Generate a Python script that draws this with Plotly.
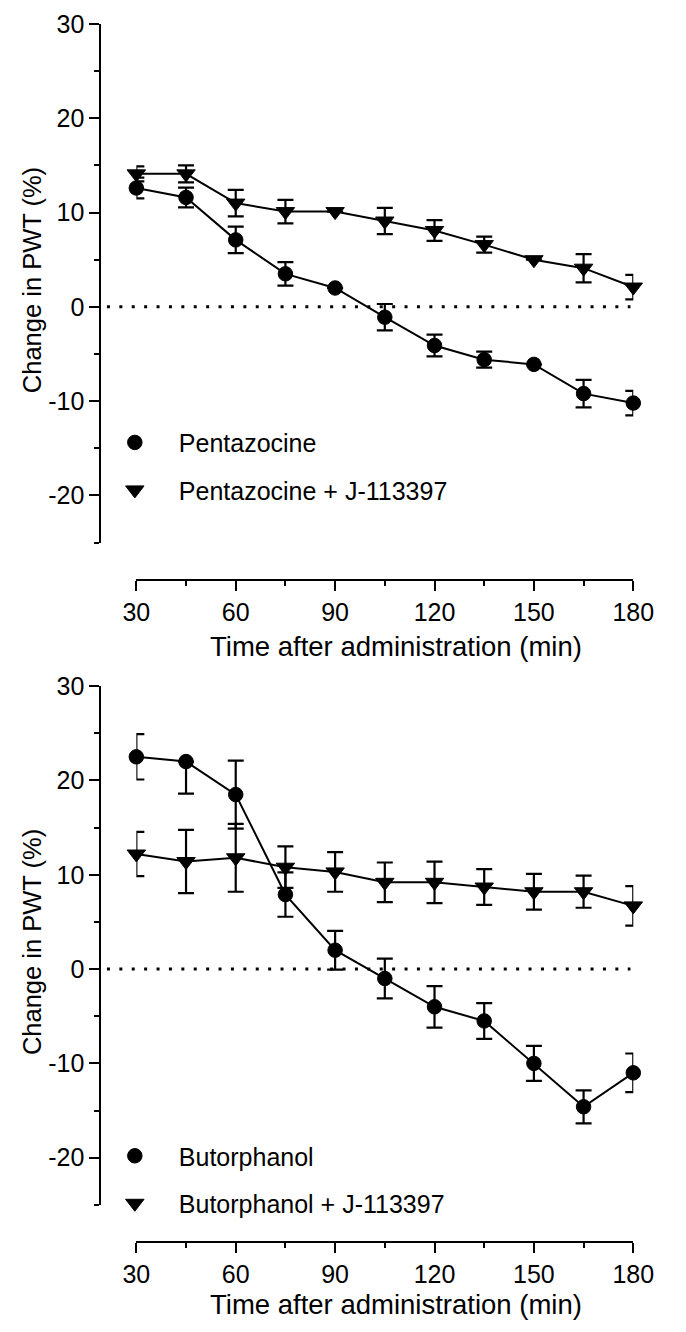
import plotly.graph_objects as go

# ---------------- data ----------------
time_min = [30, 45, 60, 75, 90, 105, 120, 135, 150, 165, 180]

pent_mean = [12.6, 11.6, 7.1, 3.5, 2.0, -1.1, -4.1, -5.6, -6.1, -9.2, -10.2]
pent_sem = [1.1, 1.05, 1.4, 1.25, None, 1.4, 1.15, 0.85, None, 1.45, 1.3]

pentj_mean = [14.1, 14.1, 11.0, 10.1, 10.1, 9.1, 8.1, 6.6, 5.0, 4.1, 2.1]
pentj_sem = [0.8, 0.9, 1.4, 1.25, None, 1.4, 1.1, 0.85, None, 1.5, 1.3]

but_mean = [22.5, 22.0, 18.5, 7.9, 2.0, -1.0, -4.0, -5.5, -10.0, -14.6, -11.0]
but_sem_up = [2.4, 0.0, 3.6, 2.35, 2.05, 2.1, 2.2, 1.9, 1.85, 1.75, 2.05]
but_sem_down = [2.4, 3.4, 3.6, 2.35, 2.05, 2.1, 2.2, 1.9, 1.85, 1.75, 2.05]

butj_mean = [12.2, 11.4, 11.8, 10.8, 10.3, 9.2, 9.2, 8.7, 8.2, 8.2, 6.7]
butj_sem = [2.35, 3.35, 3.6, 2.2, 2.1, 2.1, 2.2, 1.9, 1.9, 1.7, 2.1]

x_ticks = [30, 60, 90, 120, 150, 180]
x_tick_labels = ["30", "60", "90", "120", "150", "180"]
y_ticks = [-20, -10, 0, 10, 20, 30]
y_tick_labels = ["-20", "-10", "0", "10", "20", "30"]

x_title = "Time after administration (min)"
y_title = "Change in PWT (%)"

# ---------------- layout helpers ----------------
# page body has a default 8px margin, so the figure is drawn 8px in from the corner
OFF = 8
W, H = 686 - OFF, 1332 - OFF
FONT = "Liberation Sans, Arial, Helvetica, sans-serif"


def px(x):
    return (x - OFF) / W


def py(y):
    return 1 - (y - OFF) / H


fig = go.Figure()

panels = [
    dict(
        xa="x", ya="y", leg="legend",
        series=[
            ("Pentazocine", pent_mean, pent_sem, pent_sem, "circle", 14.5),
            ("Pentazocine + J-113397", pentj_mean, pentj_sem, pentj_sem, "triangle-down", 16),
        ],
    ),
    dict(
        xa="x2", ya="y2", leg="legend2",
        series=[
            ("Butorphanol", but_mean, but_sem_up, but_sem_down, "circle", 14.5),
            ("Butorphanol + J-113397", butj_mean, butj_sem, butj_sem, "triangle-down", 16),
        ],
    ),
]

for p in panels:
    for i, (name, mean, up, down, sym, size) in enumerate(p["series"]):
        fig.add_trace(go.Scatter(
            x=time_min, y=mean, mode="lines",
            line=dict(color="black", width=2),
            xaxis=p["xa"], yaxis=p["ya"], showlegend=False,
            hoverinfo="skip", cliponaxis=False,
        ))
        fig.add_trace(go.Scatter(
            x=time_min, y=mean, mode="markers", name=name,
            marker=dict(symbol=sym, size=size, color="black",
                        line=dict(color="black", width=1)),
            error_y=dict(type="data", array=up, arrayminus=down, symmetric=False,
                         color="black", thickness=2.2, width=8),
            xaxis=p["xa"], yaxis=p["ya"], legend=p["leg"],
            legendgroup=p["leg"] + str(i), cliponaxis=False,
        ))

axis_common = dict(
    showline=True, linecolor="black", linewidth=2,
    ticks="outside", ticklen=10, tickwidth=2, tickcolor="black",
    showgrid=False, zeroline=False,
    tickfont=dict(family=FONT, size=25, color="black"),
)
xminor = dict(dtick=15, tick0=30, ticklen=5, tickwidth=2, tickcolor="black", ticks="outside")
yminor = dict(dtick=5, tick0=-25, ticklen=5, tickwidth=2, tickcolor="black", ticks="outside")

xdom = [px(137), px(661)]
fig.update_layout(
    xaxis=dict(domain=xdom, range=[30, 180], anchor="free", position=py(580),
               tickvals=x_ticks, ticktext=x_tick_labels, minor=xminor, **axis_common),
    yaxis=dict(domain=[py(542.3), py(18)], range=[-25, 30], anchor="free", position=px(99),
               tickvals=y_ticks, ticktext=y_tick_labels, minor=yminor, **axis_common),
    xaxis2=dict(domain=xdom, range=[30, 180], anchor="free", position=py(1249),
                tickvals=x_ticks, ticktext=x_tick_labels, minor=xminor, **axis_common),
    yaxis2=dict(domain=[py(1211.6), py(687.3)], range=[-25, 30], anchor="free", position=px(99),
                tickvals=y_ticks, ticktext=y_tick_labels, minor=yminor, **axis_common),
)

# dotted zero lines
for xr, yr in [("x domain", "y"), ("x2 domain", "y2")]:
    fig.add_shape(type="line", xref=xr, yref=yr, x0=(106 - 137) / 524, x1=(658 - 137) / 524,
                  y0=0, y1=0, line=dict(color="black", width=3, dash="3px,9.4px"))

# axis titles
for xt_y, yt_y in [(647, 277), (1312, 946)]:
    fig.add_annotation(text=x_title, xref="paper", yref="paper", x=px(411), y=py(xt_y),
                       showarrow=False, xanchor="center", yanchor="middle",
                       font=dict(family=FONT, size=27.5, color="black"))
    fig.add_annotation(text=y_title, xref="paper", yref="paper", x=px(27), y=py(yt_y),
                       showarrow=False, xanchor="center", yanchor="middle", textangle=-90,
                       font=dict(family=FONT, size=25.5, color="black"))

legend_common = dict(
    xanchor="left", yanchor="top", font=dict(family=FONT, size=25, color="black"),
    itemwidth=78, traceorder="grouped", tracegroupgap=12,
    bgcolor="rgba(0,0,0,0)", borderwidth=0,
)
fig.update_layout(
    legend=dict(x=px(89), y=py(418), **legend_common),
    legend2=dict(x=px(89), y=py(1139), **legend_common),
    width=W, height=H, margin=dict(l=0, r=0, t=0, b=0),
    paper_bgcolor="white", plot_bgcolor="white", showlegend=True,
)

fig.write_html("out.html")
